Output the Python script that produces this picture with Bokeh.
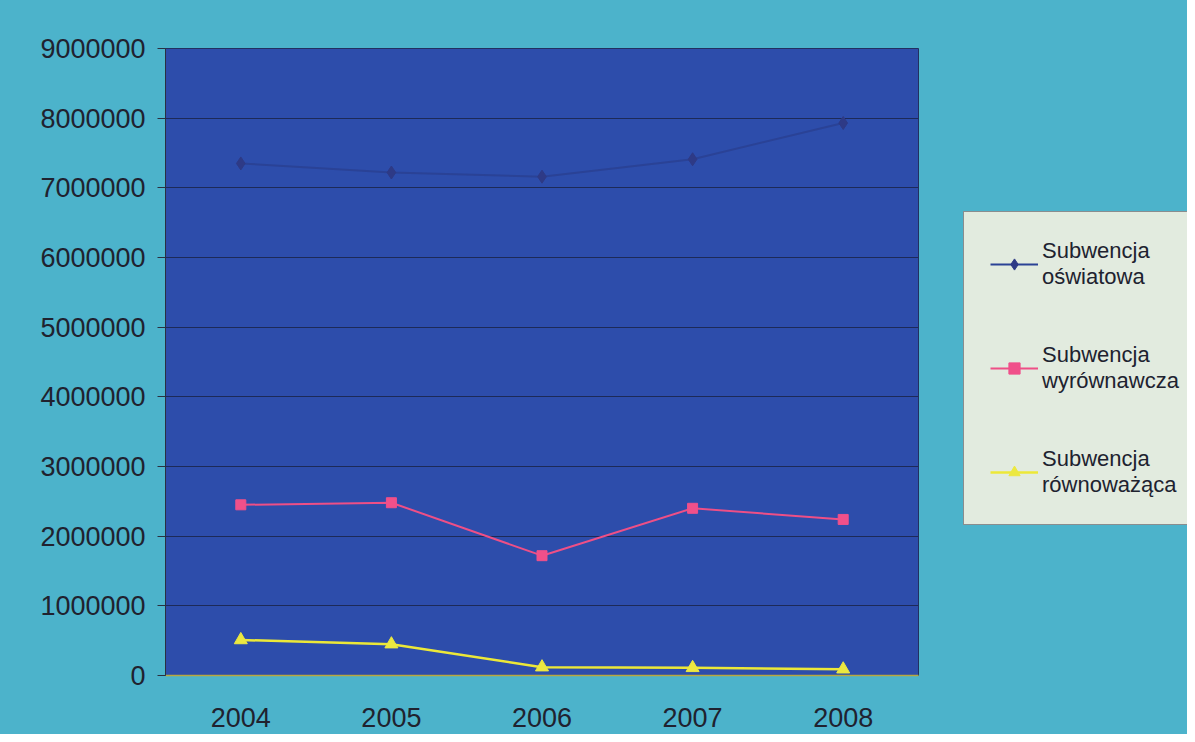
from bokeh.plotting import figure
from bokeh.layouts import row
from bokeh.models import Legend, LegendItem, FixedTicker, Range1d
from bokeh.embed import file_html
from bokeh.resources import INLINE

years = ["2004", "2005", "2006", "2007", "2008"]
oswiatowa = [7350000, 7220000, 7160000, 7410000, 7930000]
wyrownawcza = [2450000, 2480000, 1720000, 2400000, 2240000]
rownowazaca = [510000, 450000, 120000, 110000, 90000]
y_ticks = [0, 1000000, 2000000, 3000000, 4000000, 5000000, 6000000, 7000000, 8000000, 9000000]
labels = ["Subwencja\noświatowa", "Subwencja\nwyrównawcza", "Subwencja\nrównoważąca"]

FONT = "Liberation Sans"
TXT = "#20222f"
BG = "#4cb3cb"

styles = [
    dict(line_color="#2a4296", line_width=2, marker="diamond", size=13, color="#2e3a86"),
    dict(line_color="#ee4f86", line_width=2, marker="square", size=10, color="#f0508a"),
    dict(line_color="#ece838", line_width=2.5, marker="triangle", size=13, color="#ece840"),
]
series = [oswiatowa, wyrownawcza, rownowazaca]

p = figure(x_range=years, y_range=Range1d(0, 9000000), width=963, height=734,
           output_backend="svg", toolbar_location=None,
           frame_width=753, frame_height=627,
           min_border_left=165, min_border_right=45, min_border_top=48, min_border_bottom=59)
p.background_fill_color = "#2d4dab"
p.border_fill_color = BG
p.outline_line_color = "#223060"
p.outline_line_width = 1

p.xgrid.grid_line_color = None
p.ygrid.grid_line_color = "#1d2a58"
p.ygrid.grid_line_width = 1.2

p.yaxis.ticker = FixedTicker(ticks=y_ticks)
p.yaxis.formatter.use_scientific = False
p.yaxis.major_label_text_font = FONT
p.yaxis.major_label_text_font_size = "27px"
p.yaxis.major_label_text_color = TXT
p.yaxis.major_tick_out = 8
p.yaxis.major_tick_in = 0
p.yaxis.minor_tick_line_color = None
p.yaxis.major_tick_line_color = "#2a3040"
p.yaxis.axis_line_color = "#2a3040"
p.yaxis.major_label_standoff = 12

p.xaxis.major_label_text_font = FONT
p.xaxis.major_label_text_font_size = "27px"
p.xaxis.major_label_text_color = TXT
p.xaxis.major_tick_line_color = None
p.xaxis.axis_line_color = "#b8a840"
p.xaxis.axis_line_width = 1.5
p.xaxis.major_label_standoff = 26

for vals, st in zip(series, styles):
    p.line(years, vals, line_color=st["line_color"], line_width=st["line_width"])
    p.scatter(years, vals, marker=st["marker"], size=st["size"],
              fill_color=st["color"], line_color=st["color"])

# legend panel (separate figure placed to the right of the chart)
q = figure(x_range=years, y_range=Range1d(0, 9000000), width=224, height=734,
           output_backend="svg", toolbar_location=None,
           x_axis_location=None, y_axis_location=None,
           min_border=0)
q.background_fill_color = None
q.border_fill_color = None
q.outline_line_color = None
q.grid.grid_line_color = None

items = []
for vals, st, lab in zip(series, styles, labels):
    rl = q.line(years, vals, line_color=st["line_color"], line_width=st["line_width"])
    rm = q.scatter(years, vals, marker=st["marker"], size=st["size"] - 2,
                   fill_color=st["color"], line_color=st["color"])
    rl.visible = False
    rm.visible = False
    items.append(LegendItem(label=lab, renderers=[rl, rm]))

legend = Legend(items=items, location=(0, 150))
legend.label_text_font = FONT
legend.label_text_font_size = "22px"
legend.label_text_color = TXT
legend.background_fill_color = "#e2ebdf"
legend.background_fill_alpha = 1.0
legend.border_line_color = "#303040"
legend.border_line_width = 1
legend.glyph_width = 48
legend.glyph_height = 28
legend.label_standoff = 4
legend.padding = 26
legend.spacing = 52
legend.margin = 0
q.add_layout(legend)

layout = row(p, q, styles={"background-color": BG})
open("out.html", "w").write(file_html(layout, INLINE))
